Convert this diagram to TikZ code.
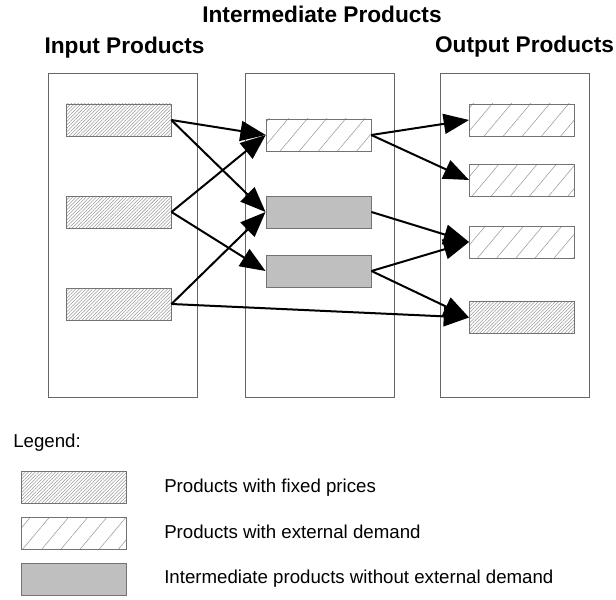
\documentclass[tikz,border=0pt]{standalone}
\usepackage{fontspec}
\setmainfont{Liberation Sans}
\usetikzlibrary{arrows.meta,patterns.meta}
\begin{document}
\begin{tikzpicture}[x=0.75pt, y=-0.75pt, >={Triangle[length=19pt,width=15pt]},
    title/.style={font=\fontsize{17}{20}\selectfont\bfseries, anchor=base, inner sep=0pt},
    legtext/.style={font=\fontsize{14}{17}\selectfont, anchor=base west, inner sep=0pt},
    prod/.style={draw=gray!90!black, line width=0.7pt, minimum width=78.75pt, minimum height=24pt, inner sep=0pt},
    fixed/.style={prod, pattern={Lines[angle=45, distance=1.8pt, line width=0.4pt]}, pattern color=gray!80},
    demand/.style={prod, pattern={Lines[angle=50, distance=11pt, line width=0.4pt]}, pattern color=gray!80},
    interm/.style={prod, fill=black!25},
    flow/.style={->, line width=1.5pt}]
        \useasboundingbox (0,0) rectangle (616,599);
        % titles
        \node[title] (tin) at (124.5,54) {Input Products};
        \node[title] (tmid) at (322,23) {Intermediate Products};
        \node[title] (tout) at (524.5,53) {Output Products};
        % containers
        \draw[gray!80!black, line width=0.6pt] (48,73) rectangle (197,397);
        \draw[gray!80!black, line width=0.6pt] (245,73) rectangle (394,397);
        \draw[gray!80!black, line width=0.6pt] (440,73) rectangle (589,397);
        % products
        \node[fixed] (in1) at (118.5,120) {};
        \node[fixed] (in2) at (118.5,212) {};
        \node[fixed] (in3) at (118.5,304) {};
        \node[demand] (m1) at (318.5,135) {};
        \node[interm] (m2) at (318.5,212) {};
        \node[interm] (m3) at (318.5,271) {};
        \node[demand] (out1) at (522,120) {};
        \node[demand] (out2) at (522,180) {};
        \node[demand] (out3) at (522,242) {};
        \node[fixed] (out4) at (522,317.5) {};
        % flows
        \draw[flow] (in1.east) -- (m1.west);
        \draw[flow] (in1.east) -- (m2.west);
        \draw[flow] (in2.east) -- (m1.west);
        \draw[flow] (in2.east) -- (m3.west);
        \draw[flow] (in3.east) -- (m2.west);
        \draw[flow] (in3.east) -- (out4.west);
        \draw[flow] (m1.east) -- (out1.west);
        \draw[flow] (m1.east) -- (out2.west);
        \draw[flow] (m2.east) -- (out3.west);
        \draw[flow] (m3.east) -- (out3.west);
        \draw[flow] (m3.east) -- (out4.west);
        % legend
        \node[legtext] (leg) at (13,447) {Legend:};
        \node[fixed] (lfixed) at (73.5,487) {};
        \node[demand] (ldemand) at (73.5,533) {};
        \node[interm] (linterm) at (73.5,579) {};
        \node[legtext] (tfixed) at (164,492) {Products with fixed prices};
        \node[legtext] (tdemand) at (164,538) {Products with external demand};
        \node[legtext] (tinterm) at (164,583) {Intermediate products without external demand};
\end{tikzpicture}
\end{document}
